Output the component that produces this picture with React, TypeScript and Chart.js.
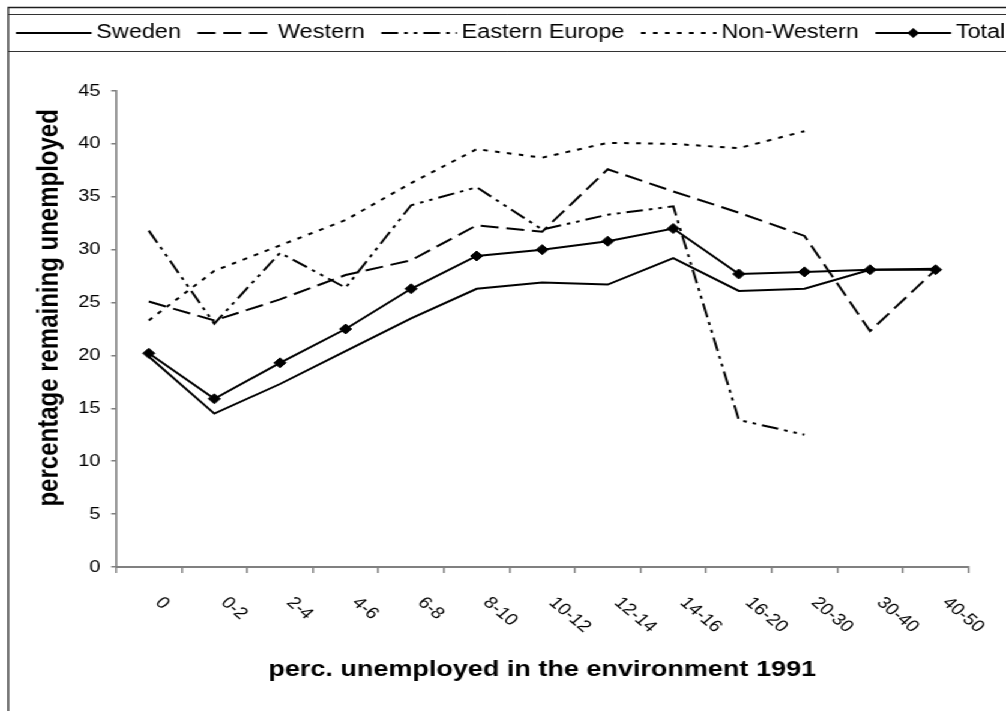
import React, { useEffect, useRef } from 'react';
import { Chart, registerables } from 'chart.js';

Chart.register(...registerables);

// ---------- data ----------
const categories = ['0', '0-2', '2-4', '4-6', '6-8', '8-10', '10-12', '12-14', '14-16', '16-20', '20-30', '30-40', '40-50'];
const sweden = [19.9, 14.5, 17.3, 20.4, 23.5, 26.3, 26.9, 26.7, 29.2, 26.1, 26.3, 28.1, 28.2];
const western = [25.1, 23.3, 25.3, 27.6, 29.0, 32.3, 31.7, 37.6, 35.5, 33.5, 31.3, 22.3, 28.1];
const easternEurope = [31.8, 23.0, 29.7, 26.4, 34.2, 35.9, 31.9, 33.3, 34.1, 13.9, 12.5, null, null];
const nonWestern = [23.3, 28.0, 30.4, 32.8, 36.3, 39.5, 38.7, 40.1, 40.0, 39.6, 41.2, null, null];
const total = [20.2, 15.9, 19.3, 22.5, 26.3, 29.4, 30.0, 30.8, 32.0, 27.7, 27.9, 28.1, 28.1];
const yTickValues = [0, 5, 10, 15, 20, 25, 30, 35, 40, 45];

const xTitle = 'perc. unemployed in the environment 1991';
const yTitle = 'percentage remaining unemployed';

// ---------- layout (canvas is drawn narrow, then stretched horizontally) ----------
const CW = 838;
const CH = 711;
const STRETCH = 1006 / CW;
const FONT = '"Liberation Sans", Arial, Helvetica, sans-serif';

const decorPlugin = {
  id: 'decor',
  afterDraw(chart: any) {
    const ctx = chart.ctx as CanvasRenderingContext2D;
    const W = chart.width;
    const H = chart.height;
    ctx.save();
    // outer frame
    ctx.strokeStyle = '#1e1e1e';
    ctx.lineWidth = 1.3;
    ctx.beginPath();
    ctx.moveTo(6.9, H + 2);
    ctx.lineTo(6.9, 7.5);
    ctx.lineTo(W + 2, 7.5);
    ctx.stroke();
    // legend box
    ctx.lineWidth = 1;
    ctx.strokeStyle = '#333';
    ctx.beginPath();
    ctx.moveTo(6.9, 14.5);
    ctx.lineTo(W + 2, 14.5);
    ctx.moveTo(6.9, 51.5);
    ctx.lineTo(W + 2, 51.5);
    ctx.stroke();

    // legend items
    const ly = 33;
    const sample = 63;
    let x = 13.3;
    ctx.font = `19.5px ${FONT}`;
    ctx.textBaseline = 'middle';
    ctx.textAlign = 'left';
    chart.data.datasets.forEach((ds: any) => {
      ctx.save();
      ctx.strokeStyle = '#000';
      ctx.lineWidth = 2;
      ctx.lineCap = 'butt';
      ctx.setLineDash(ds.borderDash || []);
      ctx.beginPath();
      ctx.moveTo(x, ly);
      ctx.lineTo(x + sample, ly);
      ctx.stroke();
      ctx.restore();
      if (ds.pointRadius > 0) {
        const r = 5;
        const cx = x + sample / 2;
        ctx.fillStyle = '#000';
        ctx.beginPath();
        ctx.moveTo(cx, ly - r);
        ctx.lineTo(cx + r, ly);
        ctx.lineTo(cx, ly + r);
        ctx.lineTo(cx - r, ly);
        ctx.closePath();
        ctx.fill();
      }
      ctx.fillStyle = '#000';
      ctx.fillText(ds.label, x + sample + 4, ly);
      x += sample + 4 + ctx.measureText(ds.label).width + 13.8;
    });

    // y-axis title
    const ys = chart.scales.y;
    ctx.save();
    ctx.font = `bold 24px ${FONT}`;
    ctx.fillStyle = '#000';
    ctx.textAlign = 'center';
    ctx.textBaseline = 'middle';
    ctx.translate(41.7, ys.getPixelForValue(24.5));
    ctx.rotate(-Math.PI / 2);
    ctx.fillText(yTitle, 0, 0);
    ctx.restore();

    // rotated category labels
    const xs = chart.scales.x;
    ctx.font = `16.5px ${FONT}`;
    ctx.fillStyle = '#000';
    ctx.textAlign = 'left';
    ctx.textBaseline = 'middle';
    categories.forEach((c, i) => {
      const px = xs.getPixelForValue(i);
      ctx.save();
      ctx.translate(px + 8, xs.top + 33);
      ctx.rotate(Math.PI / 4);
      ctx.fillText(c, 0, 0);
      ctx.restore();
    });
    ctx.restore();
  },
};

export default function App() {
  const canvasRef = useRef<HTMLCanvasElement | null>(null);

  useEffect(() => {
    const canvas = canvasRef.current;
    if (!canvas) return;
    const chart = new Chart(canvas, {
      type: 'line',
      data: {
        labels: categories,
        datasets: [
          {
            label: 'Sweden',
            data: sweden,
            borderColor: '#000',
            backgroundColor: '#000',
            borderWidth: 2,
            pointRadius: 0,
            borderDash: [],
          },
          {
            label: 'Western',
            data: western,
            borderColor: '#000',
            backgroundColor: '#000',
            borderWidth: 2,
            pointRadius: 0,
            borderDash: [15, 6.5],
          },
          {
            label: 'Eastern Europe',
            data: easternEurope,
            borderColor: '#000',
            backgroundColor: '#000',
            borderWidth: 2,
            pointRadius: 0,
            borderDash: [14, 5, 3, 5, 3, 5],
          },
          {
            label: 'Non-Western',
            data: nonWestern,
            borderColor: '#000',
            backgroundColor: '#000',
            borderWidth: 2,
            pointRadius: 0,
            borderDash: [4, 6],
          },
          {
            label: 'Total',
            data: total,
            borderColor: '#000',
            backgroundColor: '#000',
            borderWidth: 2,
            pointRadius: 5,
            pointStyle: 'rectRot',
            pointBorderWidth: 1,
            borderDash: [],
          },
        ] as any,
      },
      options: {
        animation: false,
        responsive: false,
        devicePixelRatio: 1,
        events: [],
        layout: { padding: { top: 91, left: 0, right: CW - 806.67, bottom: 0 } },
        plugins: {
          legend: { display: false },
          tooltip: { enabled: false },
          title: { display: false },
        },
        elements: { line: { tension: 0, borderCapStyle: 'butt' } },
        scales: {
          x: {
            type: 'category',
            offset: true,
            grid: {
              offset: true,
              drawOnChartArea: false,
              drawTicks: true,
              tickLength: 6,
              color: '#808080',
              lineWidth: 1.5,
            },
            border: { display: true, color: '#808080', width: 2 },
            ticks: { display: false },
            title: {
              display: true,
              text: xTitle,
              color: '#000',
              font: { family: FONT, size: 22.5, weight: 'bold' },
              padding: { top: 0, bottom: 27.5 },
            },
            afterFit: (s: any) => {
              s.height = CH - 567;
            },
          },
          y: {
            type: 'linear',
            min: 0,
            max: 45,
            afterBuildTicks: (s: any) => {
              s.ticks = yTickValues.map((v) => ({ value: v }));
            },
            grid: {
              drawOnChartArea: false,
              drawTicks: true,
              tickLength: 4,
              color: '#808080',
              lineWidth: 1.5,
            },
            border: { display: true, color: '#808080', width: 1.7 },
            ticks: {
              color: '#000',
              padding: 9,
              font: { family: FONT, size: 16.5 },
            },
            title: { display: false },
            afterFit: (s: any) => {
              s.width = 96.67;
            },
          },
        },
      } as any,
      plugins: [decorPlugin],
    });
    return () => chart.destroy();
  }, []);

  return (
    <div
      style={{
        position: 'fixed',
        left: 0,
        top: 0,
        width: CW,
        height: CH,
        transform: `scaleX(${STRETCH})`,
        transformOrigin: '0 0',
        background: '#fff',
      }}
    >
      <canvas ref={canvasRef} width={CW} height={CH} style={{ display: 'block', width: CW, height: CH }} />
    </div>
  );
}
